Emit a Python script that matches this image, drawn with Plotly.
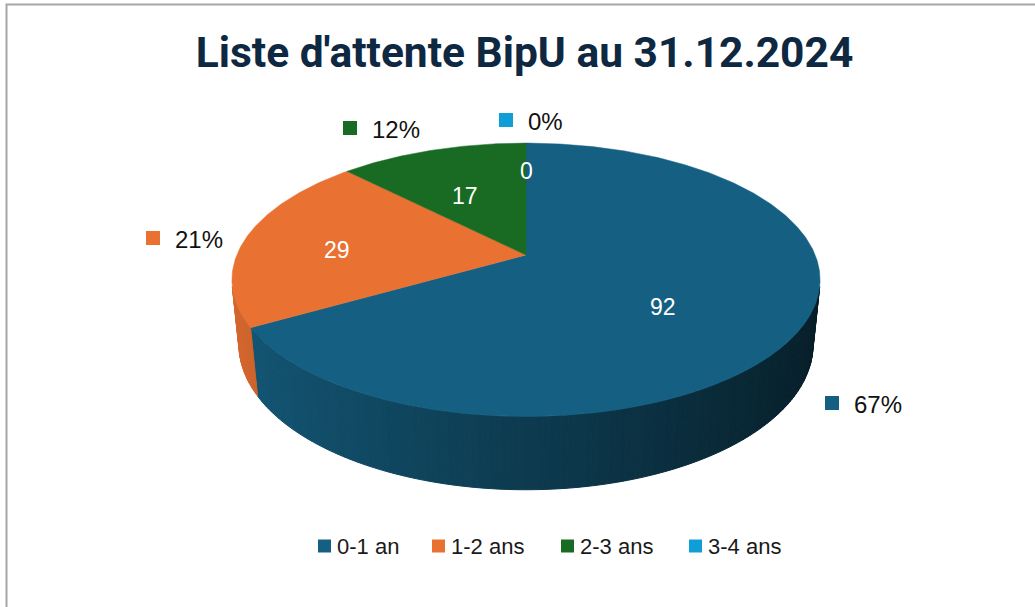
import numpy as np
import plotly.graph_objects as go

# ---------------- data ----------------
categories = ["0-1 an", "1-2 ans", "2-3 ans", "3-4 ans"]
values = [92, 29, 17, 0]
colors = ["#156082", "#E97132", "#196B24", "#0F9ED5"]
title_text = "Liste d'attente BipU au 31.12.2024"

# ---------------- layout constants ----------------
W, H = 1035, 607
CX, CY = 526, 255          # projected pie centre (px)
F = 1420.0                 # focal length (px)
D = 4.91                   # camera distance (radius units)
ELEV = np.radians(27.2)    # camera elevation
THICK = 0.255              # pie thickness (radius units)
INNER_R = [0.52, 0.67, 0.62, 0.78]
INNER_DY = [16, 7, 10, 6]
PCT_TEXT_XY = [(852, 404), (173, 239), (370, 129), (526, 121)]
LEGEND_SQ_X = [318, 432, 561, 689]
LEGEND_Y = 546
FONT = "Liberation Sans"


def proj(theta_deg, r, z):
    th = np.radians(theta_deg)
    X = r * np.sin(th)
    Y = r * np.cos(th)
    depth = D + Y * np.cos(ELEV) - z * np.sin(ELEV)
    v = Y * np.sin(ELEV) + z * np.cos(ELEV)
    return CX + F * X / depth, CY - F * v / depth


def shade(hex_color, fac):
    h = hex_color.lstrip("#")
    rgb = [int(h[i:i + 2], 16) for i in (0, 2, 4)]
    rgb = [max(0, min(255, int(round(c * fac)))) for c in rgb]
    return "rgb(%d,%d,%d)" % tuple(rgb)


total = float(sum(values))
starts, ends = [], []
acc = 0.0
for v in values:
    starts.append(acc / total * 360.0)
    acc += v
    ends.append(acc / total * 360.0)

fig = go.Figure()

# visible side wall range (front-facing)
vis_lim = np.degrees(np.arccos(-1.0 / (D * np.cos(ELEV))))
vis0, vis1 = vis_lim, 360 - vis_lim

# side walls in thin strips with lighting gradient
for i, (a0, a1) in enumerate(zip(starts, ends)):
    lo, hi = max(a0, vis0), min(a1, vis1)
    if hi <= lo:
        continue
    n = max(2, int(np.ceil((hi - lo) / 1.0)))
    edges = np.linspace(lo, hi, n + 1)
    for t0, t1 in zip(edges[:-1], edges[1:]):
        tm = 0.5 * (t0 + t1)
        X = np.sin(np.radians(tm))
        fac = 0.61 - 0.31 * X
        c = shade(colors[i], fac)
        pts = [proj(t0, 1, 0), proj(t1, 1, 0), proj(t1, 1, -THICK), proj(t0, 1, -THICK)]
        xs = [p[0] for p in pts] + [pts[0][0]]
        ys = [p[1] for p in pts] + [pts[0][1]]
        fig.add_trace(go.Scatter(x=xs, y=ys, mode="lines", fill="toself",
                                 fillcolor=c, line=dict(color=c, width=1),
                                 hoverinfo="skip", showlegend=False))

# top faces
for i, (a0, a1) in enumerate(zip(starts, ends)):
    if a1 - a0 <= 0:
        continue
    ts = np.linspace(a0, a1, max(3, int((a1 - a0) / 0.5) + 1))
    pts = [proj(0, 0, 0)] + [proj(t, 1, 0) for t in ts] + [proj(0, 0, 0)]
    fig.add_trace(go.Scatter(x=[p[0] for p in pts], y=[p[1] for p in pts],
                             mode="lines", fill="toself", fillcolor=colors[i],
                             line=dict(color=colors[i], width=0.5),
                             hoverinfo="skip", showlegend=False,
                             name=categories[i]))

annotations = []
shapes = []

# inner value labels
for i, v in enumerate(values):
    mid = 0.5 * (starts[i] + ends[i]) if v > 0 else starts[i]
    x, y = proj(mid, INNER_R[i], 0)
    annotations.append(dict(x=x, y=y + INNER_DY[i], xref="x", yref="y", text=str(v),
                            showarrow=False, font=dict(family=FONT, size=23, color="white"),
                            xanchor="center", yanchor="middle"))

# outside percentage labels with colour keys
for i, v in enumerate(values):
    tx, ty = PCT_TEXT_XY[i]
    pct = "%d%%" % round(v / total * 100)
    annotations.append(dict(x=tx, y=ty, xref="x", yref="y", text=pct, showarrow=False,
                            font=dict(family=FONT, size=24, color="#111111"),
                            xanchor="left", yanchor="middle"))
    shapes.append(dict(type="rect", xref="x", yref="y", x0=tx - 27, x1=tx - 13,
                       y0=ty - 8, y1=ty + 6, fillcolor=colors[i], line=dict(width=0)))

# legend
for i, cat in enumerate(categories):
    sx = LEGEND_SQ_X[i]
    shapes.append(dict(type="rect", xref="x", yref="y", x0=sx, x1=sx + 13,
                       y0=LEGEND_Y - 6.5, y1=LEGEND_Y + 6.5, fillcolor=colors[i], line=dict(width=0)))
    annotations.append(dict(x=sx + 17, y=LEGEND_Y, xref="x", yref="y", text=cat, showarrow=False,
                            font=dict(family=FONT, size=22, color="#1a1a1a"),
                            xanchor="left", yanchor="middle"))

# chart border
shapes.append(dict(type="rect", xref="paper", yref="paper", x0=6.5 / W, x1=1.02,
                   y0=-0.02, y1=1 - 4.5 / H, line=dict(color="#a6a6a6", width=2),
                   fillcolor="rgba(0,0,0,0)"))

fig.update_layout(
    width=W, height=H,
    margin=dict(l=0, r=0, t=0, b=0),
    paper_bgcolor="white", plot_bgcolor="white",
    title=dict(text="<b>%s</b>" % title_text, x=524.5 / W, xanchor="center",
               y=1 - 52 / H, yanchor="middle", yref="container",
               font=dict(family="Roboto", size=42.5, color="#0E2841")),
    xaxis=dict(range=[0, W], visible=False, fixedrange=True),
    yaxis=dict(range=[H, 0], visible=False, fixedrange=True),
    showlegend=False,
    annotations=annotations,
    shapes=shapes,
)

fig.write_html("out.html",
               config={"displayModeBar": False, "staticPlot": True},
               post_script="document.body.style.margin='0';document.body.style.overflow='hidden';")
